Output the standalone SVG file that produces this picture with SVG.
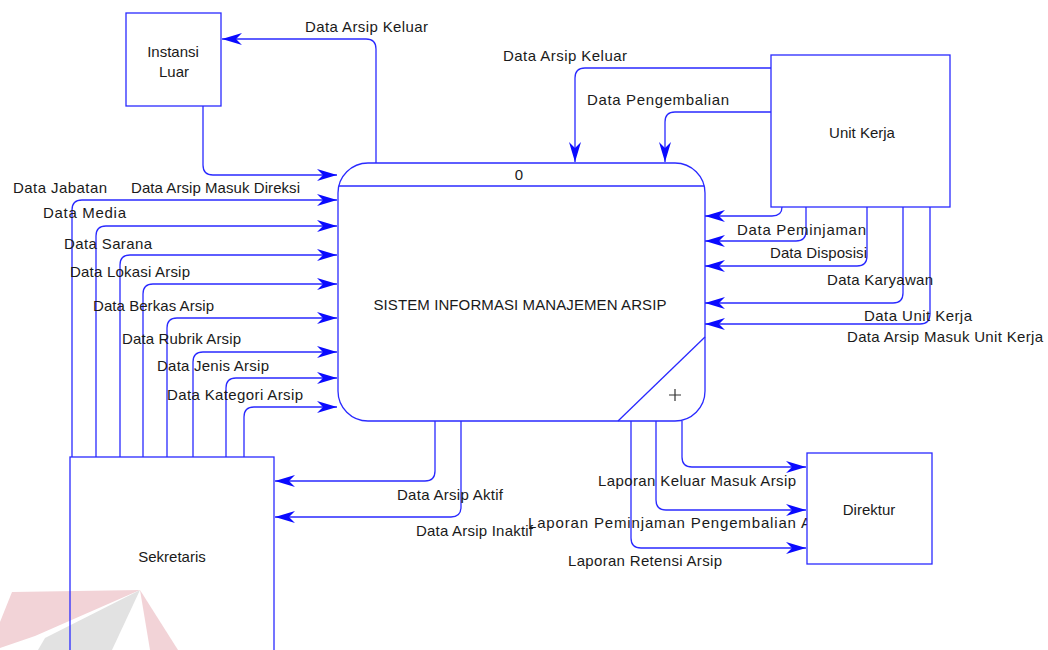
<svg xmlns="http://www.w3.org/2000/svg" width="1048" height="650" viewBox="0 0 1048 650">
<defs>
<style>
.ent{fill:#fff;stroke:#2a2aff;stroke-width:1.3}
.flow{fill:none;stroke:#2a2aff;stroke-width:1.3;marker-end:url(#arr)}
.t{font-family:"Liberation Sans",Arial,sans-serif;font-size:15px;fill:#1a1a1a}
.c{text-anchor:middle}
</style>
<marker id="arr" markerUnits="userSpaceOnUse" markerWidth="21" markerHeight="12" refX="20" refY="6" orient="auto">
<path d="M0,0 L20,6 L0,12 L6,6 z" fill="#0a0aff"/>
</marker>
</defs>
<rect width="1048" height="650" fill="#fff"/>
<g id="watermark">
<polygon points="12,592 140,590 35,636 0,648 0,622" fill="#f2d3d7"/>
<polygon points="140,590 178,650 150,650" fill="#f2d3d7"/>
<polygon points="140,590 45,638 38,650 112,650" fill="#e2e2e2"/>
</g>
<g id="connectors">
<path class="flow" d="M203,106 V165 Q203,175 213,175 H337"/>
<path class="flow" d="M376,163 V49 Q376,39 366,39 H222"/>
<path class="flow" d="M771,68 H585 Q575,68 575,78 V162"/>
<path class="flow" d="M771,112 H675 Q665,112 665,122 V162"/>
<path class="flow" d="M782,207 Q782,216 772,216 H705"/>
<path class="flow" d="M806,207 V231 Q806,241 796,241 H705"/>
<path class="flow" d="M867,207 V256 Q867,266 857,266 H705"/>
<path class="flow" d="M903,207 V293 Q903,303 893,303 H705"/>
<path class="flow" d="M930,207 V314 Q930,324 920,324 H705"/>
<path class="flow" d="M72,457 V210 Q72,200 82,200 H337"/>
<path class="flow" d="M96,457 V236 Q96,226 106,226 H337"/>
<path class="flow" d="M120,457 V265 Q120,255 130,255 H337"/>
<path class="flow" d="M143,457 V294 Q143,284 153,284 H337"/>
<path class="flow" d="M167,457 V328 Q167,318 177,318 H337"/>
<path class="flow" d="M193,457 V362 Q193,352 203,352 H337"/>
<path class="flow" d="M226,457 V388 Q226,378 236,378 H337"/>
<path class="flow" d="M244,457 V417 Q244,407 254,407 H337"/>
<path class="flow" d="M435,421 V471 Q435,481 425,481 H275"/>
<path class="flow" d="M461,421 V507 Q461,517 451,517 H275"/>
<path class="flow" d="M682,421 V457 Q682,467 692,467 H806"/>
<path class="flow" d="M656,421 V500 Q656,510 666,510 H806"/>
<path class="flow" d="M631,421 V538 Q631,548 641,548 H806"/>
</g>
<g id="labels">
<text class="t" x="305" y="32" textLength="123">Data Arsip Keluar</text>
<text class="t" x="503" y="61" textLength="124">Data Arsip Keluar</text>
<text class="t" x="587" y="105" textLength="142">Data Pengembalian</text>
<text class="t" x="13" y="193" textLength="94">Data Jabatan</text>
<text class="t" x="131" y="193" textLength="169">Data Arsip Masuk Direksi</text>
<text class="t" x="43" y="218" textLength="83">Data Media</text>
<text class="t" x="64" y="249" textLength="88">Data Sarana</text>
<text class="t" x="70" y="277" textLength="120">Data Lokasi Arsip</text>
<text class="t" x="93" y="311" textLength="121">Data Berkas Arsip</text>
<text class="t" x="122" y="344" textLength="119">Data Rubrik Arsip</text>
<text class="t" x="157" y="371" textLength="112">Data Jenis Arsip</text>
<text class="t" x="167" y="400" textLength="136">Data Kategori Arsip</text>
<text class="t" x="737" y="235" textLength="129">Data Peminjaman</text>
<text class="t" x="770" y="258" textLength="97">Data Disposisi</text>
<text class="t" x="827" y="285" textLength="106">Data Karyawan</text>
<text class="t" x="864" y="321" textLength="108">Data Unit Kerja</text>
<text class="t" x="847" y="342" textLength="196">Data Arsip Masuk Unit Kerja</text>
<text class="t" x="397" y="500" textLength="106">Data Arsip Aktif</text>
<text class="t" x="416" y="536" textLength="117">Data Arsip Inaktif</text>
<text class="t" x="598" y="486" textLength="198">Laporan Keluar Masuk Arsip</text>
<text class="t" x="528" y="528" textLength="283">Laporan Peminjaman Pengembalian A</text>
<text class="t" x="568" y="566" textLength="154">Laporan Retensi Arsip</text>
</g>
<g id="instansi-luar">
<rect class="ent" x="126" y="13" width="95" height="93"/>
<text class="t c" x="173" y="57">Instansi</text>
<text class="t c" x="174" y="77">Luar</text>
</g>
<g id="unit-kerja">
<rect class="ent" x="771" y="55" width="179" height="152"/>
<text class="t c" x="862" y="138">Unit Kerja</text>
</g>
<g id="proses-0">
<rect class="ent" x="338" y="163" width="367" height="258" rx="30" ry="30" style="fill:none"/>
<line x1="338.7" y1="186" x2="704.3" y2="186" stroke="#2a2aff" stroke-width="1.3"/>
<line x1="618" y1="421" x2="705" y2="337" stroke="#2a2aff" stroke-width="1.3"/>
<text class="t c" x="519" y="180">0</text>
<text class="t c" x="520" y="310" textLength="293">SISTEM INFORMASI MANAJEMEN ARSIP</text>
<path d="M669,395 H681 M675,389 V401" stroke="#333" stroke-width="1.2"/>
</g>
<g id="sekretaris">
<rect class="ent" x="70" y="457" width="204" height="210" style="fill:none"/>
<text class="t c" x="172" y="562">Sekretaris</text>
</g>
<g id="direktur">
<rect class="ent" x="807" y="453" width="125" height="111"/>
<text class="t c" x="869" y="515">Direktur</text>
</g>
</svg>
